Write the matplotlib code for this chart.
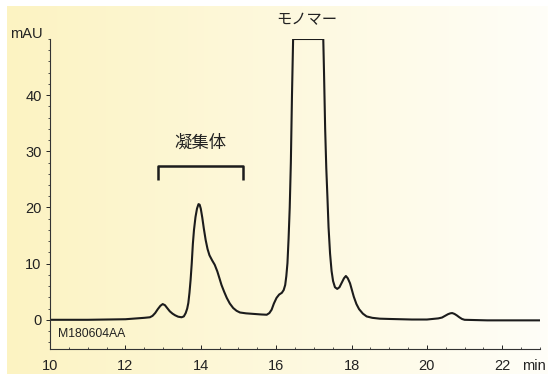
import numpy as np
import matplotlib
matplotlib.use("Agg")
import matplotlib.pyplot as plt
from matplotlib.ticker import MultipleLocator

plt.rcParams['font.family'] = ['Liberation Sans', 'Noto Sans CJK JP']

# retention time (min) and absorbance (mAU) of the SEC trace
rt = [10.0, 10.5, 11.0, 11.5, 12.0, 12.3, 12.5, 12.65, 12.72, 12.79, 12.86,
      12.93, 12.99, 13.05, 13.12, 13.18, 13.25, 13.32, 13.4, 13.49, 13.55,
      13.6, 13.64, 13.67, 13.7, 13.73, 13.76, 13.79, 13.82, 13.86, 13.9,
      13.94, 13.97, 14.0, 14.04, 14.08, 14.13, 14.18, 14.23, 14.3, 14.37,
      14.44, 14.5, 14.55, 14.62, 14.69, 14.77, 14.86, 14.95, 15.04, 15.2,
      15.4, 15.6, 15.75, 15.82, 15.88, 15.94, 16.01, 16.08, 16.15, 16.2,
      16.24, 16.27, 16.3, 16.33, 16.36, 16.39, 16.42, 16.45, 17.25, 17.27,
      17.3, 17.33, 17.36, 17.39, 17.43, 17.47, 17.51, 17.56, 17.62, 17.68,
      17.74, 17.8, 17.85, 17.9, 17.96, 18.01, 18.06, 18.13, 18.2, 18.3,
      18.4, 18.55, 18.75, 19.0, 19.3, 19.6, 20.0, 20.3, 20.4, 20.48, 20.56,
      20.62, 20.67, 20.73, 20.79, 20.86, 20.93, 21.0, 21.3, 21.6, 22.0,
      22.3, 22.7, 23.0]
mau = [0.0, 0.0, 0.0, 0.05, 0.1, 0.25, 0.35, 0.45, 0.7, 1.2, 1.9,
       2.5, 2.8, 2.6, 2.0, 1.5, 1.1, 0.8, 0.55, 0.45, 0.6,
       1.2, 2.0, 3.0, 4.8, 7.1, 10.0, 13.5, 16.0, 18.3, 19.8,
       20.6, 20.5, 19.8, 18.2, 16.3, 14.2, 12.6, 11.5, 10.6, 9.8,
       8.6, 7.3, 6.2, 5.0, 3.9, 2.9, 2.1, 1.6, 1.3, 1.15,
       1.05, 0.95, 0.9, 1.2, 1.8, 2.9, 3.9, 4.5, 4.8, 5.3,
       6.2, 7.8, 10.1, 14.5, 20.0, 28.0, 40.0, 50.0, 50.0, 44.0,
       34.0, 27.0, 21.9, 16.5, 11.8, 8.7, 6.9, 5.8, 5.5, 5.8,
       6.6, 7.4, 7.8, 7.4, 6.5, 5.3, 4.1, 2.8, 1.9, 1.1,
       0.6, 0.35, 0.2, 0.15, 0.1, 0.05, 0.05, 0.25, 0.4, 0.7, 1.0,
       1.15, 1.2, 1.05, 0.8, 0.45, 0.15, 0.0, -0.05, -0.1, -0.1,
       -0.1, -0.1, -0.1]

# bracket spanning the aggregate region
agg_span = [12.87, 15.13]
agg_top, agg_low = 27.4, 24.9

fig = plt.figure(figsize=(5.48, 3.74), dpi=100)
fig.patch.set_facecolor('white')

# pale yellow panel fading to white on the right
bg = fig.add_axes([7 / 548, 0, 1 - 7 / 548, 1 - 6 / 374])
c0 = np.array([252, 243, 194]) / 255
c1 = np.array([255, 254, 248]) / 255
w = np.linspace(0, 1, 256)[None, :, None]
grad = c0 * (1 - w) + c1 * w
bg.imshow(grad, aspect='auto', extent=[0, 1, 0, 1])
bg.axis('off')

ax = fig.add_axes([50 / 548, 1 - 349 / 374, 490 / 548, 310 / 374])
ax.set_facecolor('none')
ax.plot(rt, mau, color='#1c1c1c', lw=1.5, solid_joinstyle='round')

ax.set_xlim(10, 23)
ax.set_ylim(-5.2, 50)
ax.spines['top'].set_visible(False)
ax.spines['right'].set_visible(False)
for s in ('left', 'bottom'):
    ax.spines[s].set_linewidth(0.8)
    ax.spines[s].set_color('#333333')

ax.set_xticks([10, 12, 14, 16, 18, 20, 22])
ax.xaxis.set_minor_locator(MultipleLocator(0.5))
ax.set_yticks([0, 10, 20, 30, 40])
ax.yaxis.set_minor_locator(MultipleLocator(2))
ax.tick_params(axis='x', which='major', direction='in', length=3, width=0.7,
               pad=7.5, labelsize=10.5, colors='#222222')
ax.tick_params(axis='x', which='minor', direction='in', length=1.8, width=0.6,
               color='#333333')
ax.tick_params(axis='y', which='major', direction='out', length=3, width=0.7,
               pad=3, labelsize=10.5, colors='#222222')
ax.tick_params(axis='y', which='minor', direction='out', length=1.6, width=0.6,
               color='#333333')

# aggregate bracket
bx = [agg_span[0], agg_span[0], agg_span[1], agg_span[1]]
by = [agg_low, agg_top, agg_top, agg_low]
ax.plot(bx, by, color='#1c1c1c', lw=1.8, solid_joinstyle='round',
        solid_capstyle='butt', clip_on=False)

ax.text(14.0, 31.6, '凝集体', ha='center', va='center', fontsize=12.5,
        color='#222222')
ax.text(16.82, 53.4, 'モノマー', ha='center', va='center', fontsize=11,
        color='#222222', clip_on=False)
ax.text(10.21, -2.6, 'M180604AA', ha='left', va='center', fontsize=8.8,
        color='#222222')

fig.text(43 / 548, 1 - 34 / 374, 'mAU', ha='right', va='center',
         fontsize=10.5, color='#222222')
fig.text(534 / 548, 1 - 366 / 374, 'min', ha='center', va='center',
         fontsize=10.5, color='#222222')

fig.savefig('out.png', dpi=100, facecolor=fig.get_facecolor())
